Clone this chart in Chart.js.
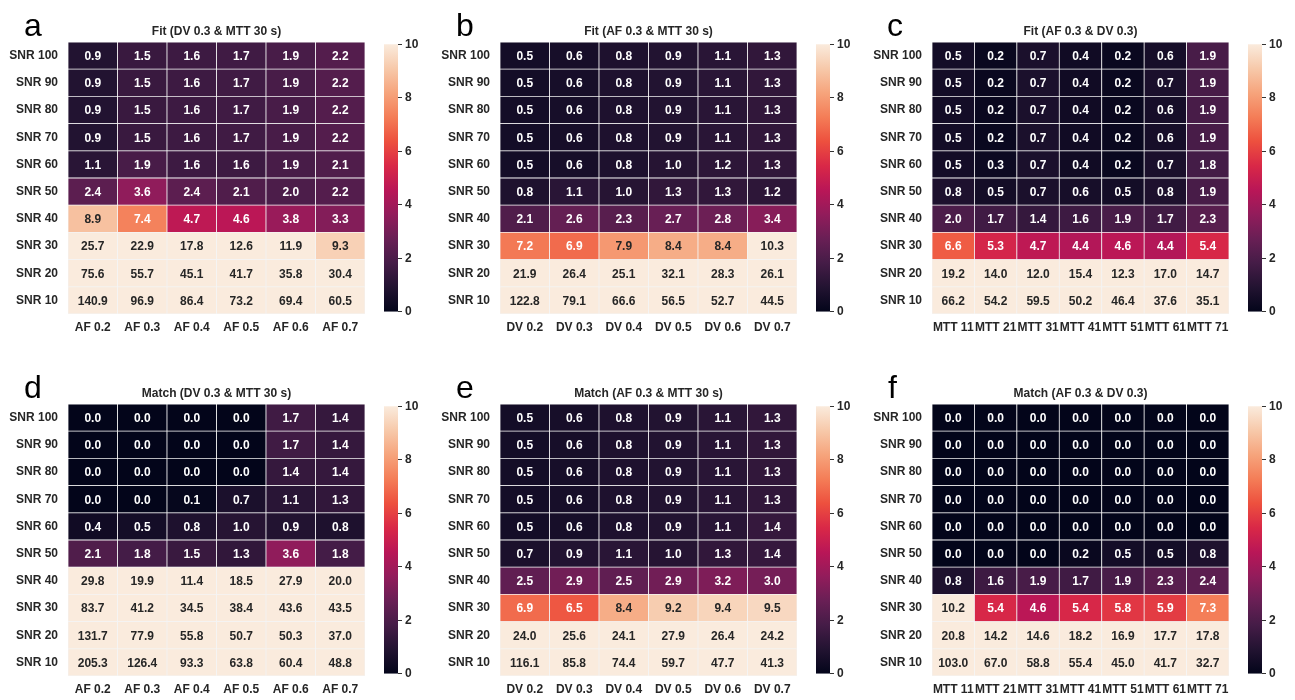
<!DOCTYPE html>
<html>
<head>
<meta charset="utf-8">
<script src="https://cdn.jsdelivr.net/npm/chart.js@4.4.1/dist/chart.umd.min.js"></script>
<style>
  body { margin: 0; background: #fff; width: 1295px; height: 700px; position: relative; overflow: hidden; font-family: "Liberation Sans", Arial, sans-serif; }
  .box { position: absolute; }
  .letter { position: absolute; font-size: 32px; line-height: 1; color: #000; }
</style>
</head>
<body>
<script>
const rowLabels = ["SNR 100", "SNR 90", "SNR 80", "SNR 70", "SNR 60", "SNR 50", "SNR 40", "SNR 30", "SNR 20", "SNR 10"];
const afLabels = ["AF 0.2", "AF 0.3", "AF 0.4", "AF 0.5", "AF 0.6", "AF 0.7"];
const dvLabels = ["DV 0.2", "DV 0.3", "DV 0.4", "DV 0.5", "DV 0.6", "DV 0.7"];
const mttLabels = ["MTT 11", "MTT 21", "MTT 31", "MTT 41", "MTT 51", "MTT 61", "MTT 71"];

// rows top -> bottom (SNR 100 ... SNR 10)
const fitAF = [
  [0.9, 1.5, 1.6, 1.7, 1.9, 2.2],
  [0.9, 1.5, 1.6, 1.7, 1.9, 2.2],
  [0.9, 1.5, 1.6, 1.7, 1.9, 2.2],
  [0.9, 1.5, 1.6, 1.7, 1.9, 2.2],
  [1.1, 1.9, 1.6, 1.6, 1.9, 2.1],
  [2.4, 3.6, 2.4, 2.1, 2.0, 2.2],
  [8.9, 7.4, 4.7, 4.6, 3.8, 3.3],
  [25.7, 22.9, 17.8, 12.6, 11.9, 9.3],
  [75.6, 55.7, 45.1, 41.7, 35.8, 30.4],
  [140.9, 96.9, 86.4, 73.2, 69.4, 60.5],
];
const fitDV = [
  [0.5, 0.6, 0.8, 0.9, 1.1, 1.3],
  [0.5, 0.6, 0.8, 0.9, 1.1, 1.3],
  [0.5, 0.6, 0.8, 0.9, 1.1, 1.3],
  [0.5, 0.6, 0.8, 0.9, 1.1, 1.3],
  [0.5, 0.6, 0.8, 1.0, 1.2, 1.3],
  [0.8, 1.1, 1.0, 1.3, 1.3, 1.2],
  [2.1, 2.6, 2.3, 2.7, 2.8, 3.4],
  [7.2, 6.9, 7.9, 8.4, 8.4, 10.3],
  [21.9, 26.4, 25.1, 32.1, 28.3, 26.1],
  [122.8, 79.1, 66.6, 56.5, 52.7, 44.5],
];
const fitMTT = [
  [0.5, 0.2, 0.7, 0.4, 0.2, 0.6, 1.9],
  [0.5, 0.2, 0.7, 0.4, 0.2, 0.7, 1.9],
  [0.5, 0.2, 0.7, 0.4, 0.2, 0.6, 1.9],
  [0.5, 0.2, 0.7, 0.4, 0.2, 0.6, 1.9],
  [0.5, 0.3, 0.7, 0.4, 0.2, 0.7, 1.8],
  [0.8, 0.5, 0.7, 0.6, 0.5, 0.8, 1.9],
  [2.0, 1.7, 1.4, 1.6, 1.9, 1.7, 2.3],
  [6.6, 5.3, 4.7, 4.4, 4.6, 4.4, 5.4],
  [19.2, 14.0, 12.0, 15.4, 12.3, 17.0, 14.7],
  [66.2, 54.2, 59.5, 50.2, 46.4, 37.6, 35.1],
];
const matchAF = [
  [0.0, 0.0, 0.0, 0.0, 1.7, 1.4],
  [0.0, 0.0, 0.0, 0.0, 1.7, 1.4],
  [0.0, 0.0, 0.0, 0.0, 1.4, 1.4],
  [0.0, 0.0, 0.1, 0.7, 1.1, 1.3],
  [0.4, 0.5, 0.8, 1.0, 0.9, 0.8],
  [2.1, 1.8, 1.5, 1.3, 3.6, 1.8],
  [29.8, 19.9, 11.4, 18.5, 27.9, 20.0],
  [83.7, 41.2, 34.5, 38.4, 43.6, 43.5],
  [131.7, 77.9, 55.8, 50.7, 50.3, 37.0],
  [205.3, 126.4, 93.3, 63.8, 60.4, 48.8],
];
const matchDV = [
  [0.5, 0.6, 0.8, 0.9, 1.1, 1.3],
  [0.5, 0.6, 0.8, 0.9, 1.1, 1.3],
  [0.5, 0.6, 0.8, 0.9, 1.1, 1.3],
  [0.5, 0.6, 0.8, 0.9, 1.1, 1.3],
  [0.5, 0.6, 0.8, 0.9, 1.1, 1.4],
  [0.7, 0.9, 1.1, 1.0, 1.3, 1.4],
  [2.5, 2.9, 2.5, 2.9, 3.2, 3.0],
  [6.9, 6.5, 8.4, 9.2, 9.4, 9.5],
  [24.0, 25.6, 24.1, 27.9, 26.4, 24.2],
  [116.1, 85.8, 74.4, 59.7, 47.7, 41.3],
];
const matchMTT = [
  [0.0, 0.0, 0.0, 0.0, 0.0, 0.0, 0.0],
  [0.0, 0.0, 0.0, 0.0, 0.0, 0.0, 0.0],
  [0.0, 0.0, 0.0, 0.0, 0.0, 0.0, 0.0],
  [0.0, 0.0, 0.0, 0.0, 0.0, 0.0, 0.0],
  [0.0, 0.0, 0.0, 0.0, 0.0, 0.0, 0.0],
  [0.0, 0.0, 0.0, 0.2, 0.5, 0.5, 0.8],
  [0.8, 1.6, 1.9, 1.7, 1.9, 2.3, 2.4],
  [10.2, 5.4, 4.6, 5.4, 5.8, 5.9, 7.3],
  [20.8, 14.2, 14.6, 18.2, 16.9, 17.7, 17.8],
  [103.0, 67.0, 58.8, 55.4, 45.0, 41.7, 32.7],
];
const colorbarTicks = [0, 2, 4, 6, 8, 10];

// seaborn "rocket"-like colour stops
const rocket = [
  [0.0, [3, 5, 26]],
  [1 / 11, [34, 19, 49]],
  [2 / 11, [69, 28, 71]],
  [3 / 11, [105, 31, 85]],
  [4 / 11, [146, 28, 91]],
  [5 / 11, [185, 22, 87]],
  [6 / 11, [217, 40, 71]],
  [7 / 11, [237, 80, 62]],
  [8 / 11, [244, 125, 87]],
  [9 / 11, [246, 164, 124]],
  [10 / 11, [247, 201, 170]],
  [1.0, [250, 235, 221]],
];
const VMAX = 10;
const FONT = "'Liberation Sans', Arial, sans-serif";
const DARK = "#262626";

Chart.defaults.font.family = FONT;

function rocketRgb(v) {
  const t = Math.max(0, Math.min(1, v / VMAX));
  for (let i = 1; i < rocket.length; i++) {
    if (t <= rocket[i][0]) {
      const [t0, c0] = rocket[i - 1];
      const [t1, c1] = rocket[i];
      const f = (t - t0) / (t1 - t0);
      return c0.map((c, k) => Math.round(c + (c1[k] - c) * f));
    }
  }
  return rocket[rocket.length - 1][1];
}

function rgbStr(c) {
  return `rgb(${c[0]},${c[1]},${c[2]})`;
}

function textColor(v) {
  const lin = (c) => {
    c /= 255;
    return c <= 0.03928 ? c / 12.92 : Math.pow((c + 0.055) / 1.055, 2.4);
  };
  const [r, g, b] = rocketRgb(v);
  const lum = 0.2126 * lin(r) + 0.7152 * lin(g) + 0.0722 * lin(b);
  return lum > 0.408 ? DARK : "#ffffff";
}

function addCanvas(left, top, width, height) {
  const div = document.createElement("div");
  div.className = "box";
  div.style.left = left + "px";
  div.style.top = top + "px";
  const canvas = document.createElement("canvas");
  canvas.width = width;
  canvas.height = height;
  canvas.style.width = width + "px";
  canvas.style.height = height + "px";
  div.appendChild(canvas);
  document.body.appendChild(div);
  return canvas;
}

const cellText = {
  id: "cellText",
  afterDatasetsDraw(chart) {
    const c = chart.ctx;
    c.save();
    c.font = `bold 12px ${FONT}`;
    c.textAlign = "center";
    c.textBaseline = "middle";
    chart.data.datasets.forEach((ds, i) => {
      chart.getDatasetMeta(i).data.forEach((bar, j) => {
        const v = ds.values[j];
        c.fillStyle = textColor(v);
        c.fillText(v.toFixed(1), bar.x, (bar.y + bar.base) / 2 + 1);
      });
    });
    c.restore();
  },
};

const heatTitle = {
  id: "heatTitle",
  afterDraw(chart, args, opts) {
    const { left, right, top } = chart.chartArea;
    const c = chart.ctx;
    c.save();
    c.font = `bold 12px ${FONT}`;
    c.fillStyle = DARK;
    c.textAlign = "center";
    c.textBaseline = "middle";
    c.fillText(opts.text, (left + right) / 2, top - 10);
    c.restore();
  },
};

const PAD_L = 68;
const PAD_T = 42;
const AXIS_B = 26;
const HM_H = 272;

function drawHeatmap(p) {
  const canvas = addCanvas(p.x - PAD_L, p.y - PAD_T, p.w + PAD_L + 8, PAD_T + HM_H + AXIS_B);
  const datasets = [];
  for (let r = rowLabels.length - 1; r >= 0; r--) {
    datasets.push({
      label: rowLabels[r],
      data: p.cols.map(() => 1),
      values: p.values[r],
      backgroundColor: p.values[r].map((v) => rgbStr(rocketRgb(v))),
      borderColor: "#f4f4f4",
      borderWidth: 0.75,
      borderSkipped: false,
      barPercentage: 1,
      categoryPercentage: 1,
    });
  }

  new Chart(canvas, {
    type: "bar",
    data: { labels: p.cols, datasets: datasets },
    options: {
      responsive: false,
      animation: false,
      layout: { padding: { top: PAD_T, right: 8, left: 0, bottom: 0 } },
      plugins: {
        legend: { display: false },
        tooltip: { enabled: false },
        heatTitle: { text: p.title },
      },
      scales: {
        x: {
          stacked: true,
          grid: { display: false, drawTicks: false },
          border: { display: false },
          ticks: {
            color: DARK,
            font: { size: 12, weight: "bold" },
            padding: 6,
            autoSkip: false,
            maxRotation: 0,
            minRotation: 0,
          },
          afterFit: (scale) => {
            scale.height = AXIS_B;
          },
        },
        y: {
          stacked: true,
          min: 0,
          max: rowLabels.length,
          grid: { display: false, drawTicks: false },
          border: { display: false },
          afterBuildTicks: (axis) => {
            axis.ticks = rowLabels.map((_, i) => ({ value: i + 0.5 }));
          },
          ticks: {
            color: DARK,
            font: { size: 12, weight: "bold" },
            padding: 10,
            callback: (value) => rowLabels[rowLabels.length - 1 - Math.floor(value)],
          },
          afterFit: (scale) => {
            scale.width = PAD_L;
          },
        },
      },
    },
    plugins: [cellText, heatTitle],
  });
}

function drawColorbar(p) {
  const canvas = addCanvas(p.cb, p.y - 8, 44, HM_H + 16);
  new Chart(canvas, {
    type: "bar",
    data: {
      labels: [""],
      datasets: [
        {
          data: [[0, VMAX]],
          borderWidth: 0,
          barPercentage: 1,
          categoryPercentage: 1,
          backgroundColor: (context) => {
            const chart = context.chart;
            if (!chart.chartArea) return null;
            const y = chart.scales.y;
            const g = chart.ctx.createLinearGradient(0, y.getPixelForValue(0), 0, y.getPixelForValue(VMAX));
            rocket.forEach(([t, c]) => g.addColorStop(t, rgbStr(c)));
            return g;
          },
        },
      ],
    },
    options: {
      responsive: false,
      animation: false,
      layout: { padding: { top: 8, bottom: 8, left: 0, right: 0 } },
      plugins: { legend: { display: false }, tooltip: { enabled: false } },
      scales: {
        x: { display: false },
        y: {
          position: "right",
          min: 0,
          max: VMAX,
          afterBuildTicks: (axis) => {
            axis.ticks = colorbarTicks.map((v) => ({ value: v }));
          },
          grid: { drawOnChartArea: false, drawTicks: true, tickLength: 4, color: "#333333" },
          border: { display: false },
          ticks: { color: DARK, font: { size: 12, weight: "bold" }, padding: 3 },
          afterFit: (scale) => {
            scale.width = 30;
          },
        },
      },
    },
  });
}

function addLetter(text, left, top) {
  const d = document.createElement("div");
  d.className = "letter";
  d.textContent = text;
  d.style.left = left + "px";
  d.style.top = top + "px";
  document.body.appendChild(d);
}

const panels = [
  { letter: "a", title: "Fit (DV 0.3 & MTT 30 s)", cols: afLabels, values: fitAF, x: 68, y: 42, w: 297, cb: 384, lx: 24, ly: 9 },
  { letter: "b", title: "Fit (AF 0.3 & MTT 30 s)", cols: dvLabels, values: fitDV, x: 500, y: 42, w: 297, cb: 816, lx: 456, ly: 9 },
  { letter: "c", title: "Fit (AF 0.3 & DV 0.3)", cols: mttLabels, values: fitMTT, x: 932, y: 42, w: 297, cb: 1248, lx: 887, ly: 9 },
  { letter: "d", title: "Match (DV 0.3 & MTT 30 s)", cols: afLabels, values: matchAF, x: 68, y: 404, w: 297, cb: 384, lx: 24, ly: 371 },
  { letter: "e", title: "Match (AF 0.3 & MTT 30 s)", cols: dvLabels, values: matchDV, x: 500, y: 404, w: 297, cb: 816, lx: 456, ly: 371 },
  { letter: "f", title: "Match (AF 0.3 & DV 0.3)", cols: mttLabels, values: matchMTT, x: 932, y: 404, w: 297, cb: 1248, lx: 888, ly: 371 },
];

panels.forEach((p) => {
  drawHeatmap(p);
  drawColorbar(p);
  addLetter(p.letter, p.lx, p.ly);
});
</script>
</body>
</html>
